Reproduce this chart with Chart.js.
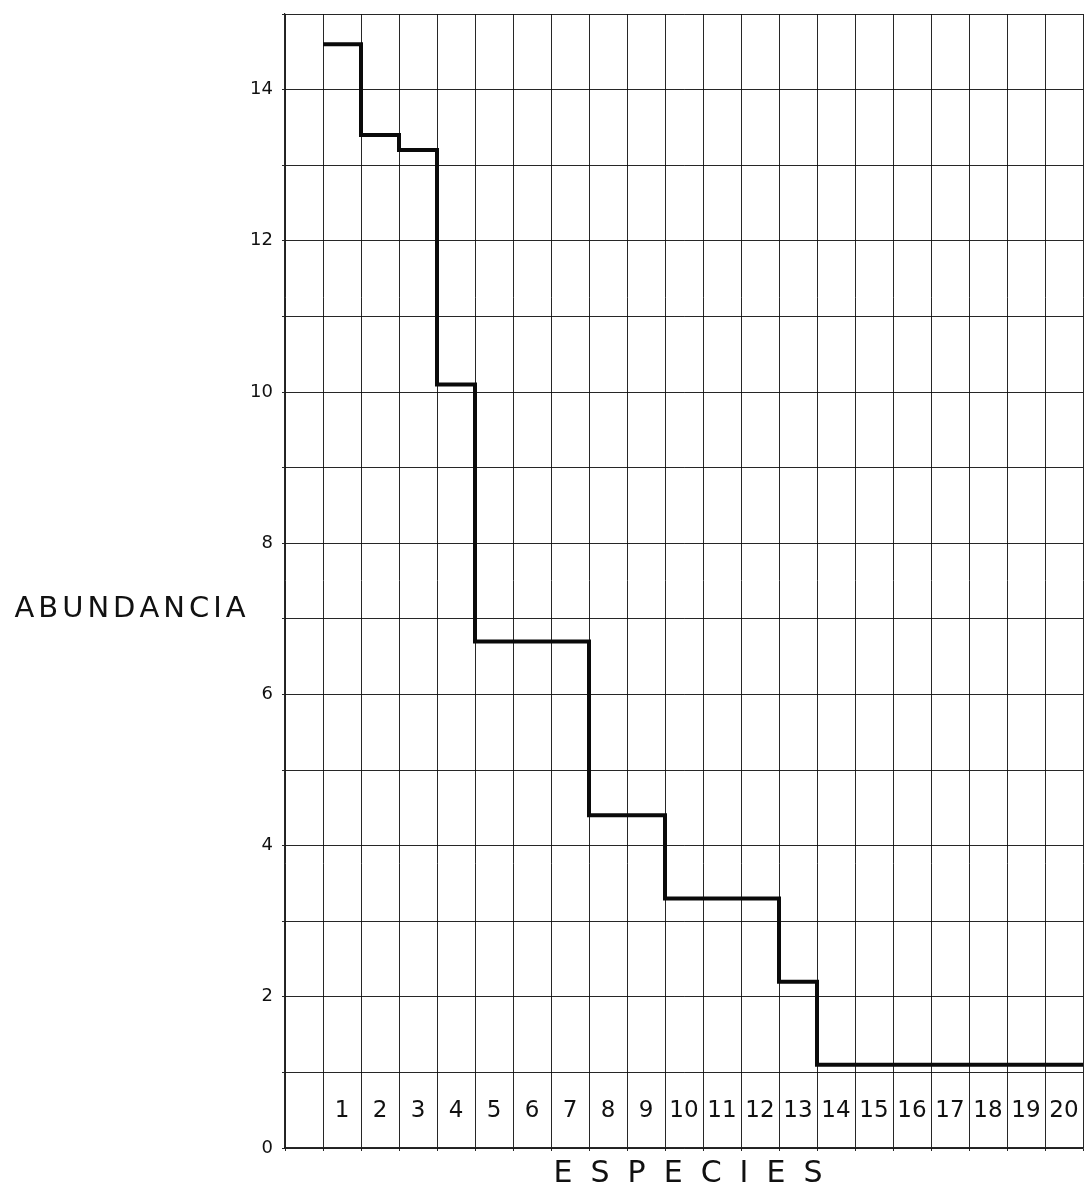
<!DOCTYPE html>
<html>
<head>
<meta charset="utf-8">
<title>Abundancia por especies</title>
<script src="https://cdn.jsdelivr.net/npm/chart.js@4/dist/chart.umd.min.js"></script>
<style>
  html, body { margin: 0; padding: 0; background: #ffffff; }
  #wrap { width: 1090px; height: 1190px; position: relative; }
</style>
</head>
<body>
<div id="wrap"><canvas id="chart" width="1090" height="1190"></canvas></div>
<script>
// Species rank (x) and their abundance (%)
const species = [1, 2, 3, 4, 5, 6, 7, 8, 9, 10, 11, 12, 13, 14, 15, 16, 17, 18, 19, 20];
const abundance = [14.6, 13.4, 13.2, 10.1, 6.7, 6.7, 6.7, 4.4, 4.4, 3.3, 3.3, 3.3, 2.2, 1.1, 1.1, 1.1, 1.1, 1.1, 1.1, 1.1];
const yTickLabels = [0, 2, 4, 6, 8, 10, 12, 14];
const yTitle = 'ABUNDANCIA';
const xTitle = 'ESPECIES';

// Each species occupies the column [s, s+1]; the last step is closed at s+1.
const stepPoints = species.map((s, i) => ({ x: s, y: abundance[i] }));
stepPoints.push({ x: species[species.length - 1] + 1, y: abundance[abundance.length - 1] });

const xMax = species[species.length - 1] + 1;
const gridColor = 'rgba(15,15,15,0.9)';
const font = '"DejaVu Sans", "Liberation Sans", sans-serif';

function drawSpaced(ctx, text, cx, cy, spacing) {
  const widths = [...text].map(ch => ctx.measureText(ch).width);
  const total = widths.reduce((a, b) => a + b, 0) + spacing * (text.length - 1);
  let x = cx - total / 2;
  ctx.textAlign = 'left';
  [...text].forEach((ch, i) => {
    ctx.fillText(ch, x, cy);
    x += widths[i] + spacing;
  });
}

const axisTitles = {
  id: 'axisTitles',
  afterDraw(chart) {
    const ctx = chart.ctx;
    const area = chart.chartArea;
    ctx.save();
    ctx.fillStyle = '#111';
    ctx.textBaseline = 'middle';
    ctx.font = '29px ' + font;
    drawSpaced(ctx, yTitle, 130, 609, 4);
    ctx.font = '30px ' + font;
    drawSpaced(ctx, xTitle, (area.left + area.right) / 2 + 4, 1174, 18);
    ctx.restore();
  }
};

new Chart(document.getElementById('chart'), {
  type: 'line',
  data: {
    datasets: [{
      data: stepPoints,
      stepped: true,
      borderColor: '#0a0a0a',
      borderWidth: 4,
      pointRadius: 0,
      fill: false,
      borderJoinStyle: 'miter'
    }]
  },
  options: {
    responsive: false,
    animation: false,
    layout: { padding: { left: 0, right: 7, top: 14, bottom: 0 } },
    plugins: { legend: { display: false }, tooltip: { enabled: false } },
    scales: {
      x: {
        type: 'linear',
        min: 0,
        max: xMax,
        afterBuildTicks(axis) {
          const t = [];
          for (let k = 0; k <= xMax * 2; k++) t.push({ value: k / 2 });
          axis.ticks = t;
        },
        afterFit(scale) {
          scale.height = 42;
          scale.paddingLeft = 0;
          scale.paddingRight = 0;
        },
        grid: {
          color: ctx => Number.isInteger(ctx.tick.value) ? gridColor : 'rgba(0,0,0,0)',
          lineWidth: 1,
          tickLength: 3,
          drawTicks: true
        },
        border: { color: gridColor, width: 1.2 },
        ticks: {
          // species numbers sit inside the bottom row of the grid
          mirror: true,
          autoSkip: false,
          maxRotation: 0,
          minRotation: 0,
          padding: 23,
          color: '#111',
          font: { family: font, size: 23 },
          callback(value) {
            if (Number.isInteger(value)) return '';
            const s = species.find(v => v + 0.5 === value);
            return s === undefined ? '' : String(s);
          }
        }
      },
      y: {
        min: 0,
        max: 15,
        afterBuildTicks(axis) {
          const t = [];
          for (let v = 0; v <= 15; v++) t.push({ value: v });
          axis.ticks = t;
        },
        afterFit(scale) {
          scale.width = 285;
          scale.paddingTop = 0;
          scale.paddingBottom = 0;
        },
        grid: { color: gridColor, lineWidth: 1, tickLength: 3 },
        border: { color: gridColor, width: 1.2 },
        ticks: {
          padding: 9,
          color: '#111',
          font: { family: font, size: 18 },
          callback(value) { return yTickLabels.includes(value) ? String(value) : ''; }
        }
      }
    }
  },
  plugins: [axisTitles]
});
</script>
</body>
</html>
